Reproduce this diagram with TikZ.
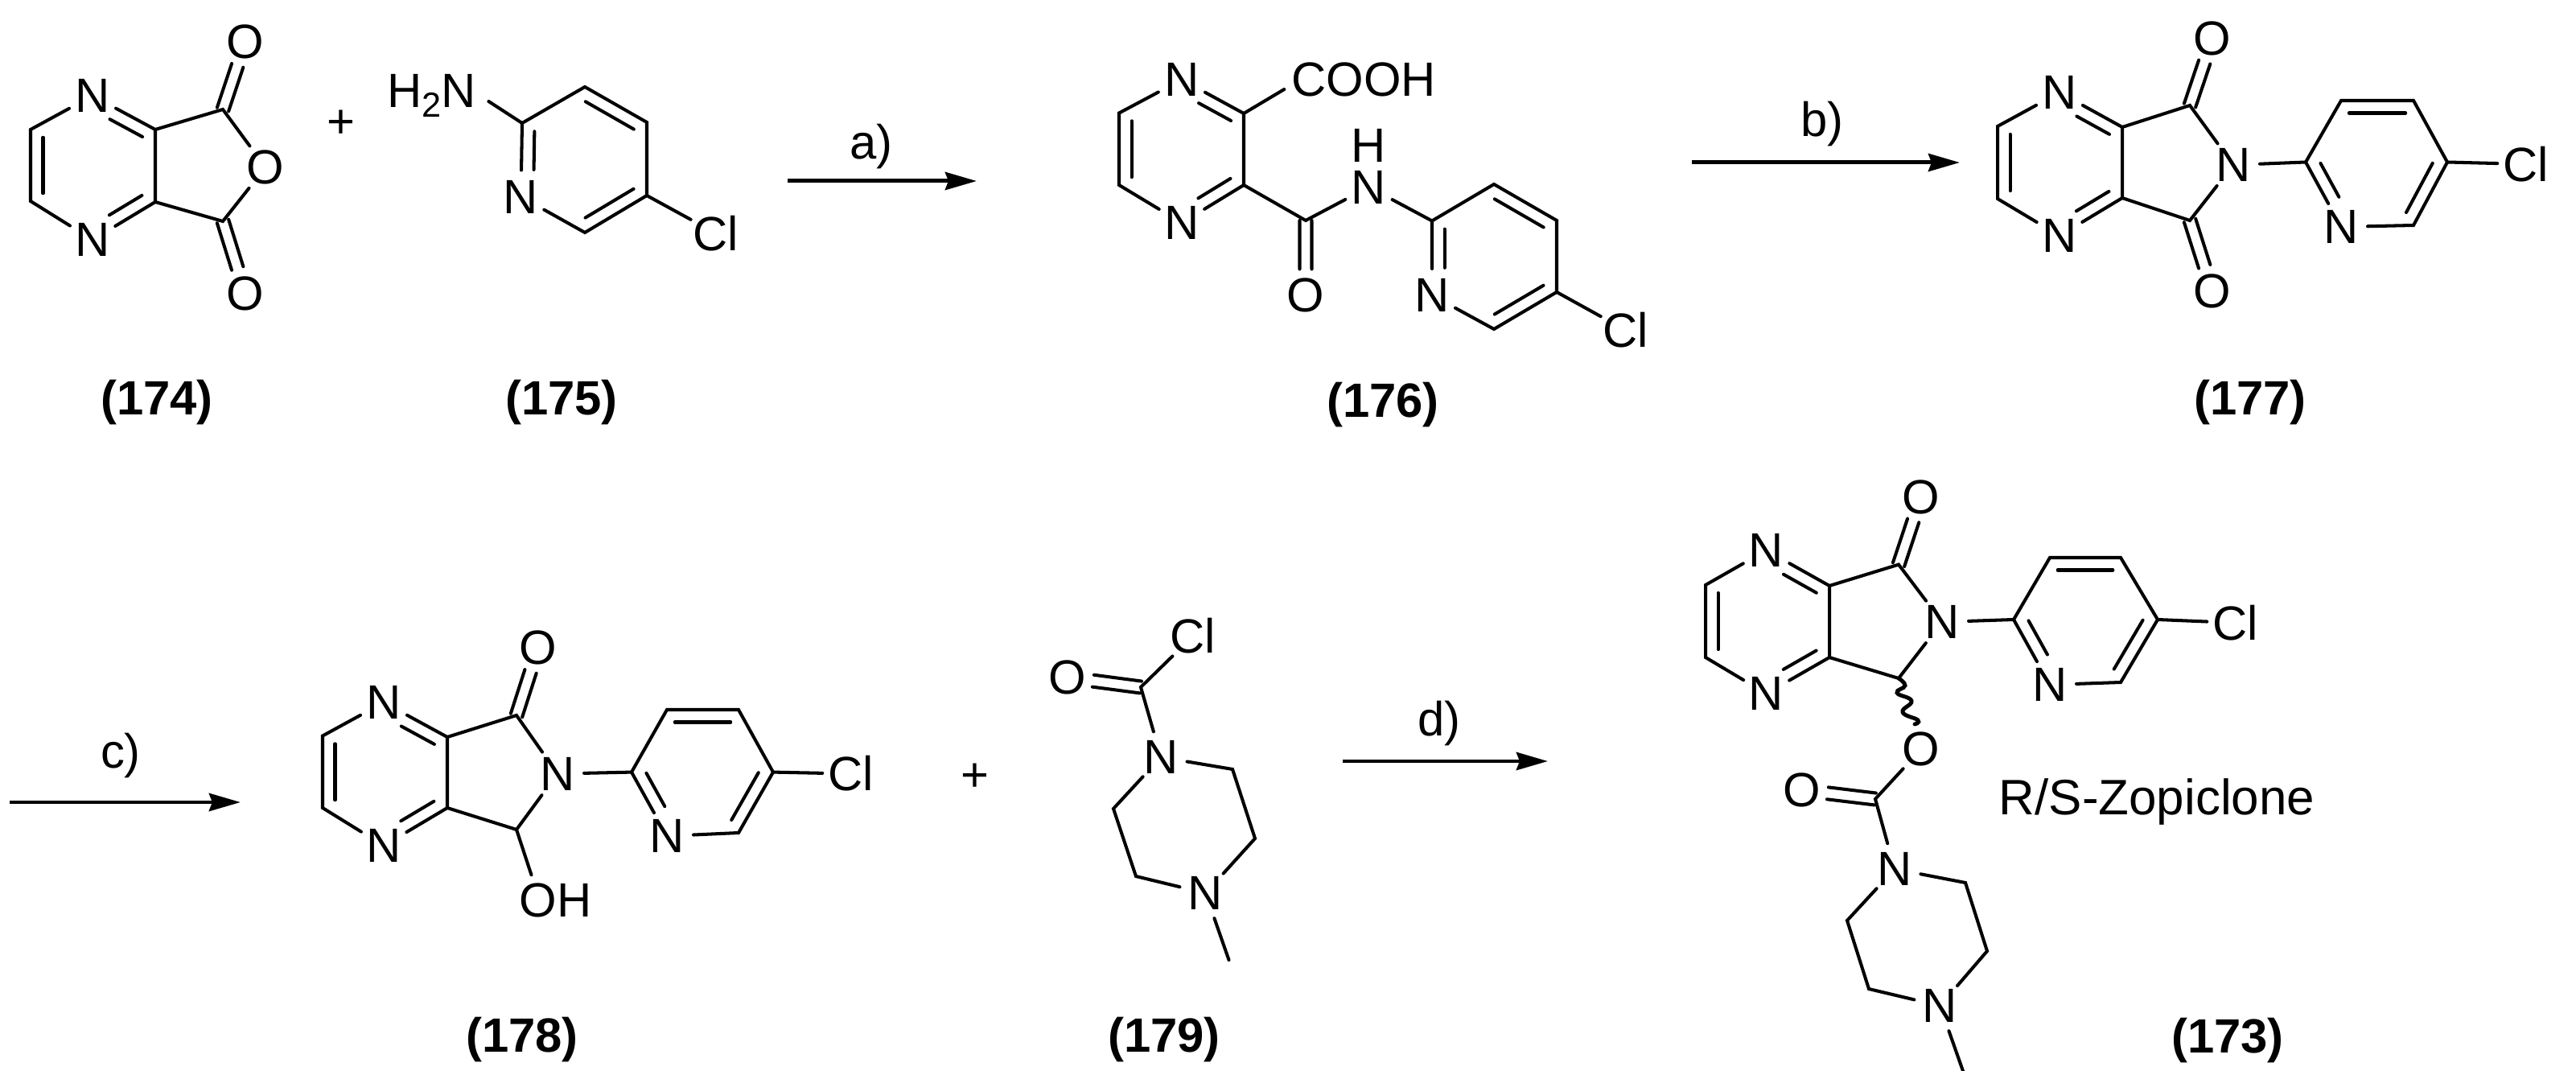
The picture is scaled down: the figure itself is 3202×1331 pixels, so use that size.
\documentclass[tikz,border=0pt]{standalone}
\usepackage{fontspec}
\setmainfont{Liberation Sans}
\usetikzlibrary{calc,arrows.meta}
\tikzset{
  bond/.style={line width=1.15pt,line join=miter,line cap=round},
  rxn/.style={line width=1.42pt,-{Stealth[length=.39cm,width=.22cm,inset=.04cm]}},
  atom/.style={circle,inner sep=0pt,outer sep=0pt,minimum size=.66cm,font=\fontsize{17}{20}\selectfont},
  txt/.style={inner sep=0pt,outer sep=0pt,font=\fontsize{17}{20}\selectfont},
  cpd/.style={inner sep=0pt,outer sep=0pt,font=\fontsize{17}{20}\selectfont\bfseries}
}
% generic parallel stroke beside a bond
\newcommand{\ib}[5]{\draw[bond] ($(#1)!#3!(#2)!.155cm!#5:(#2)$) -- ($(#1)!#4!(#2)!.155cm!#5:(#2)$);}
\newcommand{\rb}[2]{\ib{#1}{#2}{.11}{.89}{90}}
\newcommand{\nbr}[2]{\ib{#1}{#2}{.37}{.89}{-90}}
\newcommand{\nbl}[2]{\ib{#1}{#2}{.37}{.89}{90}}
\newcommand{\cob}[2]{%
  \draw[bond] ($(#1)!0!(#2)!.075cm!90:(#2)$) -- ($(#1)!.65!(#2)!.075cm!90:(#2)$);
  \draw[bond] ($(#1)!0!(#2)!.075cm!-90:(#2)$) -- ($(#1)!.65!(#2)!.075cm!-90:(#2)$);}
% pyrazine ring: nt lt lb nb rb rt
\newcommand{\pz}[1]{%
  \draw[bond] (#1rt) -- (#1nt) -- (#1lt) -- (#1lb) -- (#1nb) -- (#1rb) -- (#1rt);
  \rb{#1lt}{#1lb}\nbr{#1nt}{#1rt}\nbl{#1nb}{#1rb}}
% pyridine ring: c2 n c6 c5 c4 c3
\newcommand{\py}[1]{%
  \draw[bond] (#1c2) -- (#1n) -- (#1c6) -- (#1c5) -- (#1c4) -- (#1c3) -- (#1c2);
  \nbr{#1n}{#1c2}\rb{#1c6}{#1c5}\rb{#1c4}{#1c3}
  \draw[bond] (#1c5) -- (#1cl);}
\begin{document}
\begin{tikzpicture}[x=0.01cm,y=-0.01cm]
\useasboundingbox[fill=white] (0,0) rectangle (3202,1331);

% ---------- 174
\node[atom] (Anb) at (115,298) {N};
\node[atom] (Ant) at (115,119) {N};
\coordinate (Alt) at (38,161);
\coordinate (Alb) at (38,250);
\coordinate (Art) at (193,161);
\coordinate (Arb) at (193,251);
\coordinate (Act) at (277,136);
\coordinate (Acb) at (277,275);
\node[atom] (Aor) at (330,208) {O};
\node[atom] (Aot) at (305,52) {O};
\node[atom] (Aob) at (305,365) {O};
\pz{A}
\draw[bond] (Art) -- (Act) -- (Aor) -- (Acb) -- (Arb);
\cob{Act}{Aot}\cob{Acb}{Aob}
\node[txt] (plus1) at (424,154) {+};
\node[cpd] (l174) at (195,500) {(174)};

% ---------- 175
\node[txt,anchor=base west] (Bh) at (481,134) {H\raisebox{-.12cm}{\fontsize{12.3}{14}\selectfont 2}N};
\coordinate (Bhb) at ($(Bh.base east)+(16,-8)$);
\coordinate (Bc2) at (649,153);
\node[atom] (Bn) at (647.5,244.5) {N};
\coordinate (Bc3) at (727,108);
\coordinate (Bc4) at (804,152);
\coordinate (Bc5) at (804,243);
\coordinate (Bc6) at (727,289);
\node[atom] (Bcl) at (890,290) {Cl};
\py{B}
\draw[bond] (Bhb) -- (Bc2);
\node[cpd] (l175) at (698,500) {(175)};

% arrow a
\coordinate (as) at (979,225);
\coordinate (ae) at (1214,225);
\draw[rxn] (as) -- (ae);
\node[txt] (la) at (1083,182) {a)};

% ---------- 176
\node[atom] (Cnt) at (1469,99) {N};
\node[atom] (Cnb) at (1469,277) {N};
\coordinate (Clt) at (1391,140.5);
\coordinate (Clb) at (1391,230);
\coordinate (Crt) at (1546,141);
\coordinate (Crb) at (1546,230);
\pz{C}
\node[txt] (Ccooh) at (1695,99) {COOH};
\coordinate (Ccoa) at ($(Ccooh.west)+(-9,12)$);
\draw[bond] (Crt) -- (Ccoa);
\coordinate (Cam) at (1623,274);
\node[atom] (Cox) at (1623,367) {O};
\node[atom] (Cnh) at (1701.5,232.5) {N};
\node[txt] (Chh) at (1701.5,181) {H};
\draw[bond] (Crb) -- (Cam) -- (Cnh);
\cob{Cam}{Cox}
\coordinate (Cc2) at (1780,274.5);
\node[atom] (Cn) at (1780,367) {N};
\coordinate (Cc3) at (1857,229);
\coordinate (Cc4) at (1935,274);
\coordinate (Cc5) at (1935,363);
\coordinate (Cc6) at (1857,409);
\node[atom] (Ccl) at (2021,410.5) {Cl};
\py{C}
\draw[bond] (Cnh) -- (Cc2);
\node[cpd] (l176) at (1719,503) {(176)};

% arrow b
\coordinate (bs) at (2103,202);
\coordinate (be) at (2436,202);
\draw[rxn] (bs) -- (be);
\node[txt] (lb) at (2265,154) {b)};

% ---------- 177
\node[atom] (Dnt) at (2560,115) {N};
\node[atom] (Dnb) at (2560,293) {N};
\coordinate (Dlt) at (2483,157);
\coordinate (Dlb) at (2483,247);
\coordinate (Drt) at (2638,158);
\coordinate (Drb) at (2638,246);
\pz{D}
\coordinate (Dct) at (2722,131);
\coordinate (Dcb) at (2722,274);
\node[atom] (Dni) at (2776,205) {N};
\node[atom] (Dot) at (2750,48) {O};
\node[atom] (Dob) at (2750,362) {O};
\draw[bond] (Drt) -- (Dct) -- (Dni) -- (Dcb) -- (Drb);
\cob{Dct}{Dot}\cob{Dcb}{Dob}
\coordinate (Dc2) at (2866,201.5);
\node[atom] (Dn) at (2910,282) {N};
\coordinate (Dc3) at (2910,125);
\coordinate (Dc4) at (3000,125);
\coordinate (Dc5) at (3042,201.5);
\coordinate (Dc6) at (3000,280);
\node[atom] (Dcl) at (3140,204) {Cl};
\py{D}
\draw[bond] (Dni) -- (Dc2);
\node[cpd] (l177) at (2797,500) {(177)};

% arrow c
\coordinate (cs) at (12,997);
\coordinate (ce) at (299,997);
\draw[rxn] (cs) -- (ce);
\node[txt] (lc) at (150,939) {c)};

% ---------- 178
\node[atom] (Ent) at (477,873) {N};
\node[atom] (Enb) at (477,1051) {N};
\coordinate (Elt) at (401,914.5);
\coordinate (Elb) at (401,1004);
\coordinate (Ert) at (556,916);
\coordinate (Erb) at (556,1004);
\pz{E}
\coordinate (Eco) at (642,889);
\coordinate (Ech) at (642,1031);
\node[atom] (Eni) at (693,961.6) {N};
\node[atom] (Eox) at (669,805) {O};
\node[txt] (Eoh) at (690.5,1118.5) {OH};
\coordinate (Eoa) at ($(Eoh.north)+(-30,-10)$);
\draw[bond] (Ert) -- (Eco) -- (Eni) -- (Ech) -- (Erb);
\draw[bond] (Ech) -- (Eoa);
\cob{Eco}{Eox}
\coordinate (Ec2) at (785,959.6);
\node[atom] (En) at (829,1039) {N};
\coordinate (Ec3) at (829,882);
\coordinate (Ec4) at (918,882);
\coordinate (Ec5) at (961,959.6);
\coordinate (Ec6) at (918,1035);
\node[atom] (Ecl) at (1058,961.6) {Cl};
\py{E}
\draw[bond] (Eni) -- (Ec2);
\node[cpd] (l178) at (649,1292) {(178)};

% ---------- 179
\node[txt] (plus2) at (1212,966) {+};
\node[atom] (Fcl) at (1483,790.5) {Cl};
\node[atom] (Fox) at (1327,842) {O};
\coordinate (Fco) at (1418,854);
\node[atom] (Fnt) at (1443,941) {N};
\coordinate (Fr1) at (1532,956);
\coordinate (Fr2) at (1560,1042);
\node[atom] (Fnb) at (1498.5,1110) {N};
\coordinate (Fl2) at (1412,1089);
\coordinate (Fl1) at (1384,1005);
\coordinate (Fme) at (1527.5,1193);
\draw[bond] (Fcl) -- (Fco) -- (Fnt) -- (Fr1) -- (Fr2) -- (Fnb) -- (Fl2) -- (Fl1) -- (Fnt);
\draw[bond] (Fnb) -- (Fme);
\cob{Fco}{Fox}
\node[cpd] (l179) at (1447,1292) {(179)};

% arrow d
\coordinate (ds) at (1669,946);
\coordinate (de) at (1924,946);
\draw[rxn] (ds) -- (de);
\node[txt] (ld) at (1789,899) {d)};

% ---------- 173
\node[atom] (Gnt) at (2195.5,684) {N};
\node[atom] (Gnb) at (2195.5,862) {N};
\coordinate (Glt) at (2120,727);
\coordinate (Glb) at (2120,817);
\coordinate (Grt) at (2274,728);
\coordinate (Grb) at (2274,817);
\pz{G}
\coordinate (Gco) at (2360,701.6);
\coordinate (Gch) at (2360,843);
\node[atom] (Gni) at (2414,773) {N};
\node[atom] (Gox) at (2388,617.5) {O};
\draw[bond] (Grt) -- (Gco) -- (Gni) -- (Gch) -- (Grb);
\cob{Gco}{Gox}
\coordinate (Gc2) at (2503,770);
\node[atom] (Gn) at (2548,851) {N};
\coordinate (Gc3) at (2548,693);
\coordinate (Gc4) at (2636,693);
\coordinate (Gc5) at (2682,770);
\coordinate (Gc6) at (2636,848);
\node[atom] (Gcl) at (2779,774) {Cl};
\py{G}
\draw[bond] (Gni) -- (Gc2);
\node[atom] (Gol) at (2388,931) {O};
\coordinate (Gwe) at ($(Gol)+(-8,-31)$);
\draw[bond,line width=1.4pt] plot[smooth,tension=.8] coordinates {(Gch) (2368,852) (2358,861) (2376,871) (2365,885) (2384,895) (Gwe)};
\coordinate (Gcc) at (2331,993);
\node[atom] (Goc) at (2240,982) {O};
\node[atom] (Gpt) at (2355,1080) {N};
\coordinate (Gr1) at (2443,1097);
\coordinate (Gr2) at (2470,1182);
\node[atom] (Gpb) at (2411.5,1250) {N};
\coordinate (Gl2) at (2323,1229);
\coordinate (Gl1) at (2296,1144);
\coordinate (Gme) at (2440,1331);
\draw[bond] (Gol) -- (Gcc) -- (Gpt) -- (Gr1) -- (Gr2) -- (Gpb) -- (Gl2) -- (Gl1) -- (Gpt);
\draw[bond] (Gpb) -- (Gme);
\cob{Gcc}{Goc}
\node[txt,anchor=base,font=\fontsize{17.6}{20}\selectfont] (Gname) at (2681,1012) {R/S-Zopiclone};
\node[cpd] (l173) at (2769,1293) {(173)};
\end{tikzpicture}
\end{document}
